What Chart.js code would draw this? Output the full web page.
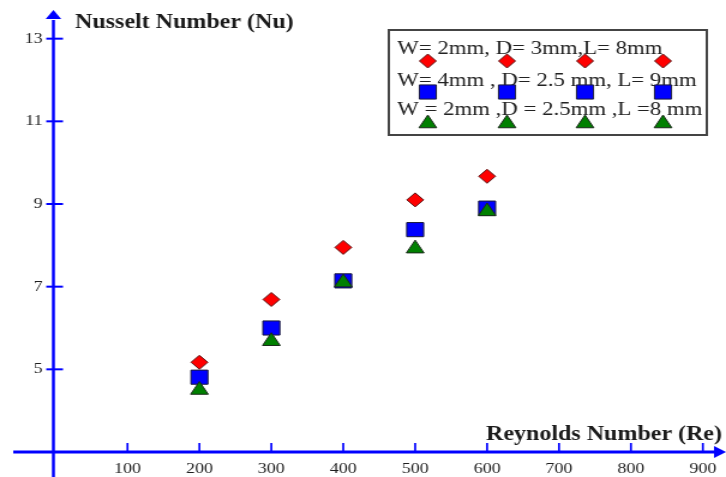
<!DOCTYPE html>
<html><head><meta charset="utf-8">
<script src="https://cdn.jsdelivr.net/npm/chart.js@4.4.0/dist/chart.umd.min.js"></script>
<style>
html,body{margin:0;padding:0;background:#fff;overflow:hidden}
#wrap{width:726px;height:477px;overflow:hidden;position:relative}
canvas{display:block;transform:scaleX(1.2);transform-origin:0 0}
</style></head><body>
<div id="wrap"><canvas id="c" width="605" height="477" style="width:605px;height:477px"></canvas></div>
<script>
// ---- data ----
const reynolds = [200, 300, 400, 500, 600];
const nuSeries1 = [5.17, 6.69, 7.95, 9.10, 9.67];
const nuSeries2 = [4.81, 6.00, 7.14, 8.38, 8.90];
const nuSeries3 = [4.50, 5.68, 7.10, 7.92, 8.82];
const seriesLabels = [
  'W= 2mm, D= 3mm,L= 8mm',
  'W= 4mm , D= 2.5 mm, L= 9mm',
  'W = 2mm ,D = 2.5mm ,L =8 mm'
];
const xTickValues = [100, 200, 300, 400, 500, 600, 700, 800, 900];
const yTickValues = [5, 7, 9, 11, 13];
const xTitle = 'Reynolds Number (Re)';
const yTitle = 'Nusselt Number (Nu)';

const AXIS_BLUE = '#0000ff';
const SERIF = '"Liberation Serif", "Times New Roman", serif';

function pts(xs, ys) { return xs.map((x, i) => ({ x: x, y: ys[i] })); }

const axesPlugin = {
  id: 'crossAxes',
  beforeDatasetsDraw(chart) {
    const ctx = chart.ctx;
    const xs = chart.scales.x, ys = chart.scales.y;
    const ax = xs.getPixelForValue(xs.min);   // y-axis line position
    const ay = ys.getPixelForValue(ys.min);   // x-axis line position
    ctx.save();
    ctx.strokeStyle = AXIS_BLUE;
    ctx.fillStyle = AXIS_BLUE;
    ctx.lineWidth = 3;
    ctx.beginPath();
    ctx.moveTo(11, ay);
    ctx.lineTo(597, ay);
    ctx.stroke();
    ctx.beginPath();
    ctx.moveTo(605, ay);
    ctx.lineTo(595, ay - 6);
    ctx.lineTo(595, ay + 6);
    ctx.closePath();
    ctx.fill();
    ctx.lineWidth = 2.5;
    ctx.beginPath();
    ctx.moveTo(ax, 477);
    ctx.lineTo(ax, 20);
    ctx.stroke();
    ctx.beginPath();
    ctx.moveTo(ax, 10);
    ctx.lineTo(ax - 6.5, 19);
    ctx.lineTo(ax + 6.5, 19);
    ctx.closePath();
    ctx.fill();
    ctx.lineWidth = 1.7;
    xs.ticks.forEach(t => {
      const px = xs.getPixelForValue(t.value);
      ctx.beginPath();
      ctx.moveTo(px, ay - 9);
      ctx.lineTo(px, ay + 1);
      ctx.stroke();
    });
    ctx.lineWidth = 2;
    ys.ticks.forEach(t => {
      const py = ys.getPixelForValue(t.value);
      ctx.beginPath();
      ctx.moveTo(ax - 6, py);
      ctx.lineTo(ax + 8, py);
      ctx.stroke();
    });
    ctx.restore();
  },
  afterDraw(chart) {
    const ctx = chart.ctx;
    ctx.save();
    ctx.fillStyle = '#1a1a1a';
    ctx.font = 'bold 20px ' + SERIF;
    ctx.textBaseline = 'alphabetic';
    ctx.textAlign = 'left';
    ctx.fillText(yTitle, 62.5, 28);
    ctx.fillText(xTitle, 405, 440);
    ctx.fillStyle = '#ffffff';
    ctx.fillRect(324, 30, 265, 105);
    ctx.strokeStyle = '#444';
    ctx.lineWidth = 2;
    ctx.strokeRect(324, 30, 265, 105);
    const baselines = [54, 86, 115];
    const markerY = [61, 92, 123.5];
    const markerX = [356.5, 422.5, 487.5, 552.5];
    chart.data.datasets.forEach((ds, i) => {
      ctx.fillStyle = '#222';
      ctx.font = '19px ' + SERIF;
      ctx.fillText(ds.label, 331, baselines[i]);
      markerX.forEach(mx => {
        ctx.fillStyle = ds.backgroundColor;
        ctx.strokeStyle = ds.borderColor;
        ctx.lineWidth = ds.borderWidth;
        Chart.helpers.drawPoint(ctx, { pointStyle: ds.pointStyle, radius: ds.pointRadius, rotation: 0, borderWidth: ds.borderWidth }, mx, markerY[i]);
      });
    });
    ctx.restore();
  }
};

new Chart(document.getElementById('c'), {
  type: 'scatter',
  data: {
    datasets: [
      { label: seriesLabels[0], data: pts(reynolds, nuSeries1), pointStyle: 'rectRot', pointRadius: 7, backgroundColor: '#ff0000', borderColor: '#5a1010', borderWidth: 1, order: 0 },
      { label: seriesLabels[1], data: pts(reynolds, nuSeries2), pointStyle: 'rect', pointRadius: 10, backgroundColor: '#0000ff', borderColor: '#1a1a3a', borderWidth: 1, order: 2 },
      { label: seriesLabels[2], data: pts(reynolds, nuSeries3), pointStyle: 'triangle', pointRadius: 8.5, backgroundColor: '#008000', borderColor: '#1a2a1a', borderWidth: 1, order: 1 }
    ]
  },
  options: {
    responsive: false,
    animation: false,
    devicePixelRatio: 1,
    layout: { autoPadding: false, padding: { top: 12, right: 2, left: 0, bottom: 0 } },
    plugins: { legend: { display: false }, tooltip: { enabled: false } },
    scales: {
      x: {
        type: 'linear', position: 'bottom', min: -3, max: 920,
        grid: { display: false, drawTicks: false },
        border: { display: false },
        afterBuildTicks: s => { s.ticks = xTickValues.map(v => ({ value: v })); },
        afterFit: s => { s.height = 25; },
        ticks: { padding: 8, color: '#1e1e1e', autoSkip: false, maxRotation: 0, font: { family: SERIF, size: 15 } }
      },
      y: {
        type: 'linear', position: 'left', min: 3, max: 13.5,
        grid: { display: false, drawTicks: false },
        border: { display: false },
        afterBuildTicks: s => { s.ticks = yTickValues.map(v => ({ value: v })); },
        afterFit: s => { s.width = 44.5; },
        ticks: { padding: 9, color: '#1e1e1e', font: { family: SERIF, size: 15 } }
      }
    }
  },
  plugins: [axesPlugin]
});
</script>
</body></html>
